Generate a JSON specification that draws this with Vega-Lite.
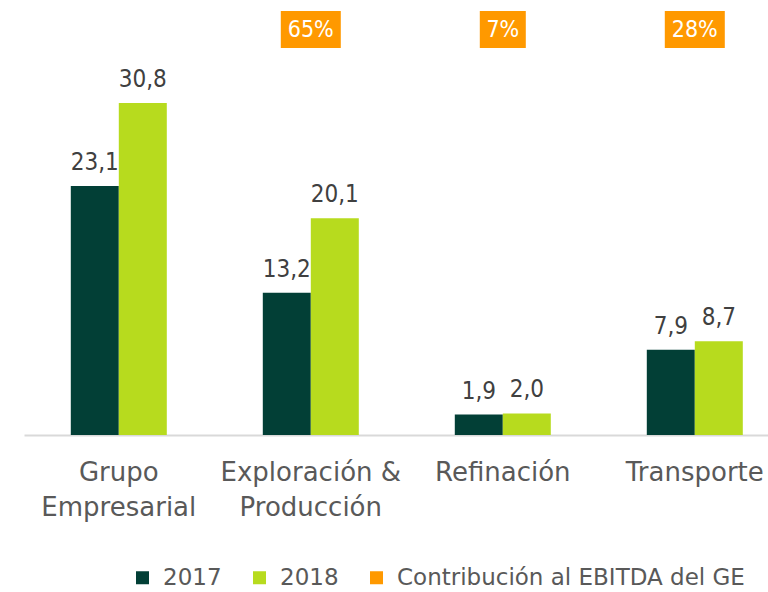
{
  "$schema": "https://vega.github.io/schema/vega-lite/v6.json",
  "width": 744,
  "height": 435,
  "autosize": {"type": "none"},
  "padding": {"left": 24, "top": 0, "right": 0, "bottom": 157},
  "background": "white",
  "config": {
    "view": {"stroke": null},
    "font": "DejaVu Sans Condensed",
    "locale": {"number": {"decimal": ",", "thousands": ".", "grouping": [3], "currency": ["", ""]}}
  },
  "datasets": {
    "ebitda": [
      {"category": "Grupo Empresarial", "year": "2017", "value": 23.1},
      {"category": "Grupo Empresarial", "year": "2018", "value": 30.8},
      {"category": "Exploración & Producción", "year": "2017", "value": 13.2},
      {"category": "Exploración & Producción", "year": "2018", "value": 20.1},
      {"category": "Refinación", "year": "2017", "value": 1.9},
      {"category": "Refinación", "year": "2018", "value": 2.0},
      {"category": "Transporte", "year": "2017", "value": 7.9},
      {"category": "Transporte", "year": "2018", "value": 8.7}
    ],
    "share": [
      {"category": "Exploración & Producción", "share": "65%"},
      {"category": "Refinación", "share": "7%"},
      {"category": "Transporte", "share": "28%"}
    ]
  },
  "encoding": {
    "x": {
      "field": "category",
      "type": "nominal",
      "sort": ["Grupo Empresarial", "Exploración & Producción", "Refinación", "Transporte"],
      "scale": {"paddingInner": 0.5, "paddingOuter": 0.1875, "align": 0.65},
      "axis": {
        "title": null,
        "labelAngle": 0,
        "ticks": false,
        "domainColor": "#D9D9D9",
        "domainWidth": 2,
        "labelFont": "DejaVu Sans",
        "labelFontSize": 26,
        "labelColor": "#595959",
        "labelPadding": 24,
        "labelLineHeight": 35,
        "labelBaseline": "top",
        "labelLimit": 300,
        "labelExpr": "datum.value == 'Grupo Empresarial' ? ['Grupo', 'Empresarial'] : datum.value == 'Exploración & Producción' ? ['Exploración &', 'Producción'] : datum.value"
      }
    }
  },
  "layer": [
    {
      "data": {"name": "ebitda"},
      "mark": {"type": "bar"},
      "encoding": {
        "xOffset": {"field": "year", "type": "nominal", "scale": {"paddingInner": 0, "paddingOuter": 0}},
        "y": {"field": "value", "type": "quantitative", "scale": {"domain": [0, 40.35], "nice": false}, "axis": null},
        "color": {
          "field": "year",
          "type": "nominal",
          "scale": {"domain": ["2017", "2018", "Contribución al EBITDA del GE"], "range": ["#023F36", "#B7DB1E", "#FF9900"]},
          "legend": {
            "title": null,
            "orient": "none",
            "direction": "horizontal",
            "legendX": 107,
            "legendY": 566,
            "padding": 0,
            "symbolType": "square",
            "symbolSize": 169,
            "symbolStrokeWidth": 0,
            "labelFont": "DejaVu Sans",
            "labelFontSize": 23,
            "labelColor": "#595959",
            "labelOffset": 9,
            "columnPadding": 26,
            "labelLimit": 500
          }
        }
      }
    },
    {
      "data": {"name": "ebitda"},
      "mark": {"type": "text", "baseline": "alphabetic", "dy": -16, "fontSize": 24, "color": "#404040"},
      "encoding": {
        "xOffset": {"field": "year", "type": "nominal"},
        "y": {"field": "value", "type": "quantitative"},
        "text": {"field": "value", "type": "quantitative", "format": ".1f"}
      }
    },
    {
      "data": {"name": "share"},
      "transform": [{"filter": "datum.share != '7%'"}],
      "mark": {"type": "bar", "width": 60},
      "encoding": {
        "y": {"datum": 39.33},
        "y2": {"datum": 35.9},
        "color": {"datum": "Contribución al EBITDA del GE"}
      }
    },
    {
      "data": {"name": "share"},
      "transform": [{"filter": "datum.share == '7%'"}],
      "mark": {"type": "bar", "width": 46},
      "encoding": {
        "y": {"datum": 39.33},
        "y2": {"datum": 35.9},
        "color": {"datum": "Contribución al EBITDA del GE"}
      }
    },
    {
      "data": {"name": "share"},
      "mark": {"type": "text", "baseline": "middle", "fontSize": 23, "color": "white"},
      "encoding": {
        "y": {"datum": 37.6},
        "text": {"field": "share", "type": "nominal"}
      }
    }
  ]
}
